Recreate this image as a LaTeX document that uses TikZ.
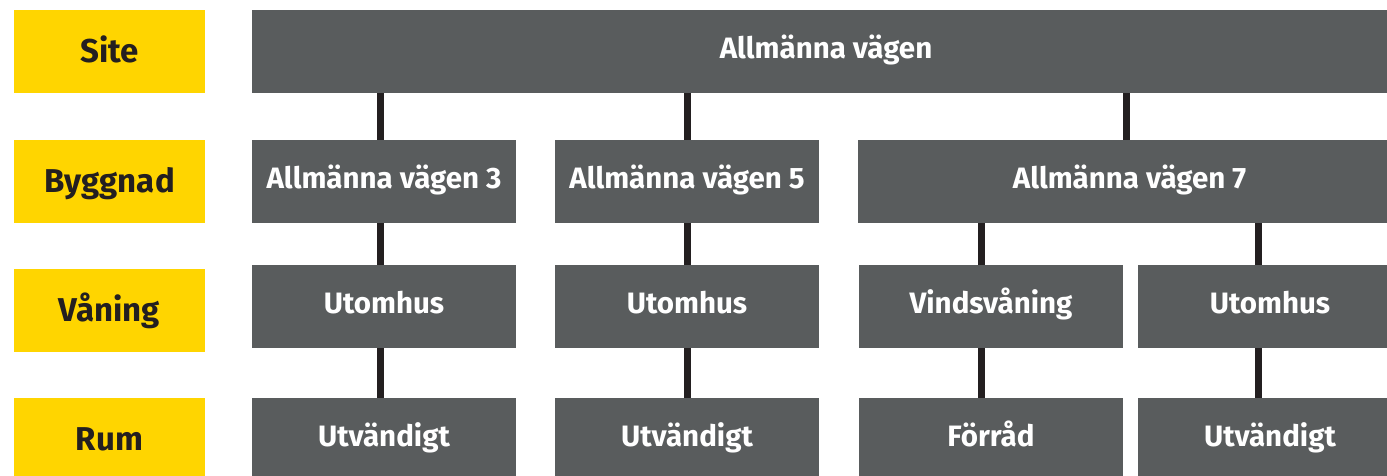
\documentclass[tikz,border=0pt]{standalone}
\usepackage{fontspec}
\setmainfont{Fira Sans}
\usetikzlibrary{positioning}
\definecolor{lvlyellow}{HTML}{FFD500}
\definecolor{unitgrey}{HTML}{595C5D}
\definecolor{linkblack}{HTML}{231F20}

\begin{document}
\begin{tikzpicture}[x=1pt, y=1pt,
    level/.style={rectangle, fill=lvlyellow, minimum width=191pt,
                  minimum height=82.7pt, inner sep=0pt, text=linkblack,
                  font=\fontsize{33}{38}\selectfont\bfseries,
                  text height=22.7pt, text depth=0pt},
    unit/.style={rectangle, fill=unitgrey, minimum width=264pt,
                 minimum height=82.7pt, inner sep=0pt, text=white,
                 font=\fontsize{29.5}{34}\selectfont\bfseries,
                 text height=20.5pt, text depth=5.4pt},
    link/.style={line width=7pt, color=linkblack}
  ]
    \clip (0,0) rectangle (1387,476);

    % Levels
    \node[level] (lsite)  at (109.5, 424.65) {Site};
    \node[level] (lbygg)  at (109.5, 294.65) {Byggnad};
    \node[level] (lvan)   at (109.5, 165.65) {Våning};
    \node[level] (lrum)   at (109.5, 36.65)  {Rum};

    % Site and buildings
    \node[unit, minimum width=1148pt] (site) at (826, 424.65)    {Allmänna vägen};
    \node[unit] (b3) at (384, 294.65)                            {Allmänna vägen 3};
    \node[unit] (b5) at (687, 294.65)                            {Allmänna vägen 5};
    \node[unit, minimum width=543pt] (b7) at (1129.5, 294.65)    {Allmänna vägen 7};

    % Floors
    \node[unit] (v3)   at (384, 169.65)  {Utomhus};
    \node[unit] (v5)   at (687, 169.65)  {Utomhus};
    \node[unit] (vind) at (991, 169.65)  {Vindsvåning};
    \node[unit] (v7)   at (1270, 169.65) {Utomhus};

    % Rooms
    \node[unit] (r3)   at (384, 36.65)  {Utvändigt};
    \node[unit] (r5)   at (687, 36.65)  {Utvändigt};
    \node[unit] (forr) at (991, 36.65)  {Förråd};
    \node[unit] (r7)   at (1270, 36.65) {Utvändigt};

    % Links
    \draw[link] ([xshift=-3.5pt]b3.north) -- ([xshift=-3.5pt]b3.north |- site.south);
    \draw[link] (b5.north) -- (b5.north |- site.south);
    \draw[link] ([xshift=-3pt]b7.north) -- ([xshift=-3pt]b7.north |- site.south);
    \draw[link] ([xshift=-3.5pt]v3.north) -- ([xshift=-3.5pt]b3.south);
    \draw[link] (v5.north) -- (b5.south);
    \draw[link] ([xshift=-10pt]vind.north) -- ([xshift=-10pt]vind.north |- b7.south);
    \draw[link] ([xshift=-12pt]v7.north) -- ([xshift=-12pt]v7.north |- b7.south);
    \draw[link] ([xshift=-3.5pt]r3.north) -- ([xshift=-3.5pt]v3.south);
    \draw[link] (r5.north) -- (v5.south);
    \draw[link] ([xshift=-10pt]forr.north) -- ([xshift=-10pt]vind.south);
    \draw[link] ([xshift=-12pt]r7.north) -- ([xshift=-12pt]v7.south);
  \end{tikzpicture}
\end{document}
